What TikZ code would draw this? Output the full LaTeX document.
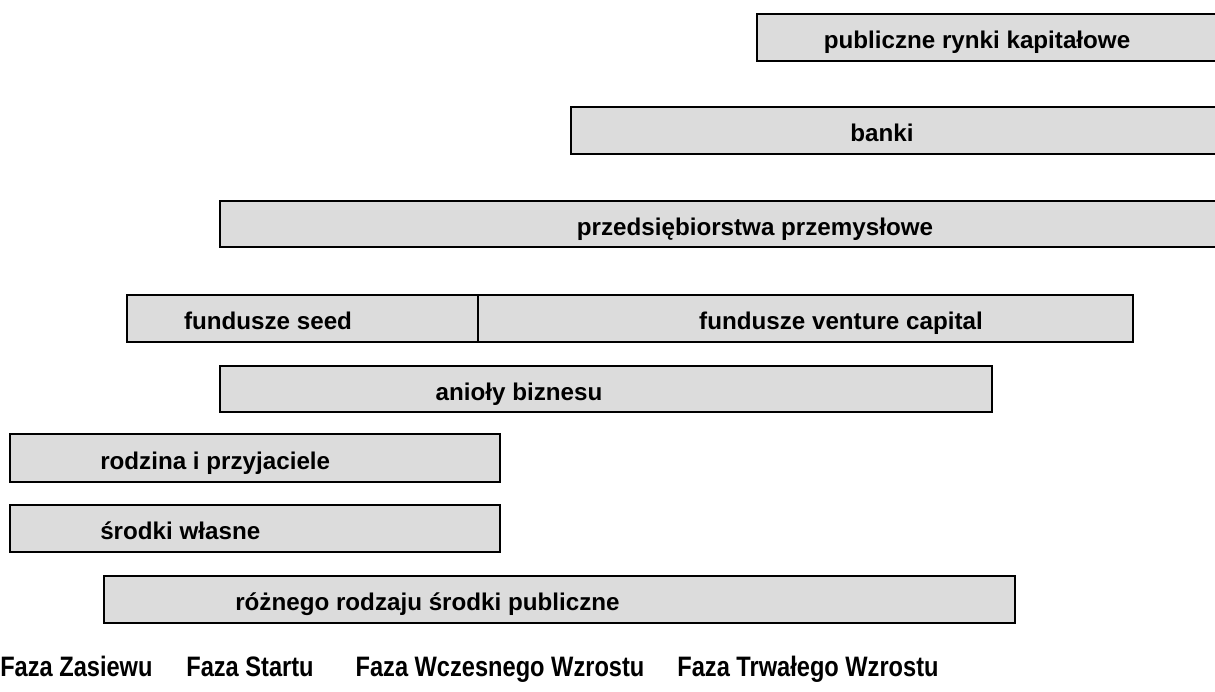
\documentclass[tikz,border=0pt]{standalone}
\usepackage{fontspec}
\usepackage{graphicx}
\setmainfont{Liberation Sans}
\usetikzlibrary{fit}
\definecolor{boxgray}{RGB}{220,220,220}
\newcommand{\fazatext}[1]{\scalebox{0.84}[1]{#1}}
\begin{document}
\begin{tikzpicture}[
    x=0.025cm, y=-0.025cm,
    source/.style={
        draw=black,
        fill=boxgray,
        line width=1.4pt,
        inner sep=0pt
    },
    sourcetext/.style={
        font=\fontsize{17.2}{20}\selectfont\bfseries,
        inner sep=0pt,
        anchor=base
    },
    phase/.style={
        font=\fontsize{20}{24}\selectfont\bfseries,
        inner sep=0pt,
        anchor=base
    }
]
    \useasboundingbox (0,0) rectangle (1215,691);

    % sources of financing
    \node[source, fit={(757,14) (1230,61)}] (rynki) {};
    \node[source, fit={(571,107) (1230,154)}] (banki) {};
    \node[source, fit={(220,201) (1230,247)}] (przem) {};
    \node[source, fit={(127,295) (478,342)}] (seed) {};
    \node[source, fit={(478,295) (1133,342)}] (vc) {};
    \node[source, fit={(220,366) (992,412)}] (anioly) {};
    \node[source, fit={(10,434) (500,482)}] (rodzina) {};
    \node[source, fit={(10,505) (500,552)}] (wlasne) {};
    \node[source, fit={(104,576) (1015,623)}] (publiczne) {};

    \node[sourcetext] (rynki-t) at (977,48) {publiczne rynki kapitałowe};
    \node[sourcetext] (banki-t) at (882,141) {banki};
    \node[sourcetext] (przem-t) at (755,235) {przedsiębiorstwa przemysłowe};
    \node[sourcetext] (seed-t) at (268,329) {fundusze seed};
    \node[sourcetext] (vc-t) at (841,329) {fundusze venture capital};
    \node[sourcetext] (anioly-t) at (519,400) {anioły biznesu};
    \node[sourcetext, anchor=base west] (rodzina-t) at (100,469) {rodzina i przyjaciele};
    \node[sourcetext, anchor=base west] (wlasne-t) at (100,539) {środki własne};
    \node[sourcetext, anchor=base west] (publiczne-t) at (235,610) {różnego rodzaju środki publiczne};

    % phases
    \node[phase, anchor=base west] (zasiew) at (0,676) {\fazatext{Faza Zasiewu}};
    \node[phase] (start) at (250,676) {\fazatext{Faza Startu}};
    \node[phase] (wczesny) at (500,676) {\fazatext{Faza Wczesnego Wzrostu}};
    \node[phase] (trwaly) at (808,676) {\fazatext{Faza Trwałego Wzrostu}};
\end{tikzpicture}
\end{document}
